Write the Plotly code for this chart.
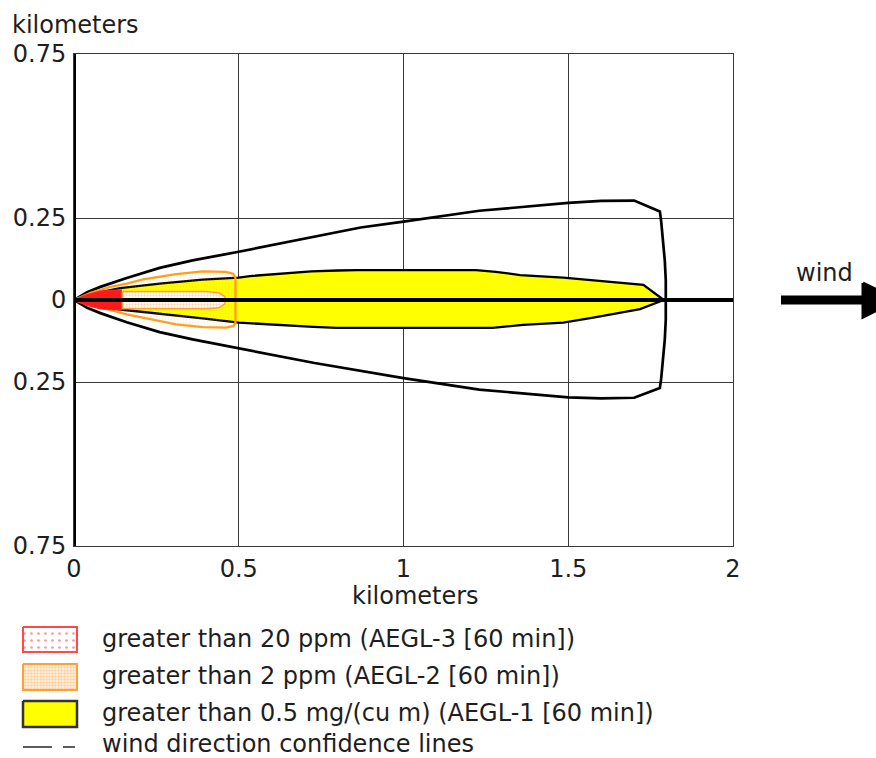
import plotly.graph_objects as go

# ---- axis ticks (km) ----
x_ticks = [0, 0.5, 1, 1.5, 2]
x_tick_labels = ["0", "0.5", "1", "1.5", "2"]
y_ticks = [-0.75, -0.25, 0, 0.25, 0.75]
y_tick_labels = ["0.75", "0.25", "0", "0.25", "0.75"]

# ---- wind direction confidence lines (km downwind, km crosswind) ----
conf_upper_x = [0, 0.04, 0.08, 0.16, 0.26, 0.36, 0.50, 0.67, 0.87, 1.00, 1.23, 1.50, 1.60, 1.70, 1.778]
conf_upper_y = [0, 0.024, 0.040, 0.067, 0.098, 0.121, 0.147, 0.180, 0.221, 0.239, 0.272, 0.296, 0.302, 0.303, 0.270]
conf_arc_x = [1.782, 1.788, 1.793, 1.796, 1.797, 1.796, 1.793, 1.788, 1.782]
conf_arc_y = [0.24, 0.18, 0.12, 0.06, 0.0, -0.06, -0.12, -0.18, -0.24]
conf_lower_x = [1.778, 1.70, 1.60, 1.50, 1.23, 1.00, 0.73, 0.50, 0.47, 0.36, 0.26, 0.16, 0.08, 0.04, 0]
conf_lower_y = [-0.268, -0.298, -0.300, -0.297, -0.273, -0.238, -0.192, -0.147, -0.141, -0.120, -0.098, -0.068, -0.040, -0.024, 0]

# ---- AEGL-1 zone: > 0.5 mg/(cu m) ----
aegl1_x = [0, 0.04, 0.08, 0.14, 0.26, 0.39, 0.50, 0.534, 0.635, 0.72, 0.80, 0.86, 1.00, 1.22, 1.28,
           1.354, 1.485, 1.576, 1.728, 1.79,
           1.718, 1.576, 1.485, 1.363, 1.32, 1.27, 1.00, 0.797, 0.726, 0.574, 0.50, 0.39, 0.26, 0.14, 0.08, 0]
aegl1_y = [0, 0.012, 0.024, 0.036, 0.050, 0.062, 0.068, 0.073, 0.080, 0.087, 0.090, 0.091, 0.091, 0.091, 0.086,
           0.076, 0.068, 0.060, 0.046, 0.0,
           -0.028, -0.054, -0.069, -0.076, -0.081, -0.085, -0.085, -0.085, -0.082, -0.072, -0.069, -0.056, -0.042, -0.029, -0.020, 0]

# ---- AEGL-2 zone: > 2 ppm ----
aegl2_x = [0, 0.05, 0.11, 0.16, 0.21, 0.26, 0.31, 0.39, 0.46, 0.483, 0.49,
           0.49, 0.483, 0.46, 0.39, 0.31, 0.21, 0.16, 0.11, 0.05, 0]
aegl2_y = [0, 0.022, 0.040, 0.050, 0.063, 0.072, 0.079, 0.087, 0.086, 0.080, 0.068,
           -0.072, -0.080, -0.084, -0.083, -0.074, -0.054, -0.044, -0.030, -0.016, 0]

# ---- AEGL-3 zone: > 20 ppm ----
aegl3_x = [0, 0.04, 0.08, 0.14, 0.143, 0.143, 0.14, 0.08, 0.04, 0]
aegl3_y = [0, 0.016, 0.027, 0.030, 0.030, -0.030, -0.030, -0.027, -0.016, 0]
aegl3_tail_x = [0.147, 0.40, 0.44, 0.458, 0.458, 0.44, 0.40, 0.147, 0.147]
aegl3_tail_y = [0.026, 0.026, 0.022, 0.010, -0.012, -0.024, -0.027, -0.027, 0.026]

# ---- downwind centreline ----
center_x = [0, 2]
center_y = [0, 0]

# ---- legend entries ----
legend_labels = [
    "greater than 20 ppm (AEGL-3 [60 min])",
    "greater than 2 ppm (AEGL-2 [60 min])",
    "greater than 0.5 mg/(cu m) (AEGL-1 [60 min])",
    "wind direction confidence lines",
]

W, H = 876, 758
PX_L, PX_R, PX_T, PX_B = 74, 733, 54, 546
FONT = "DejaVu Sans"
TXT = "#1e1e1e"
FS = 24

fig = go.Figure()

# confidence envelope
fig.add_trace(go.Scatter(
    x=conf_upper_x + conf_arc_x + conf_lower_x,
    y=conf_upper_y + conf_arc_y + conf_lower_y,
    mode="lines", line=dict(color="black", width=2.7),
    hoverinfo="skip", showlegend=False))

# AEGL-1 (yellow)
fig.add_trace(go.Scatter(
    x=aegl1_x, y=aegl1_y, mode="lines", fill="toself",
    fillcolor="#ffff00", line=dict(color="black", width=2.3),
    hoverinfo="skip", showlegend=False))

# AEGL-2 (orange, stippled)
fig.add_trace(go.Scatter(
    x=aegl2_x, y=aegl2_y, mode="lines", fill="toself",
    fillcolor="rgba(0,0,0,0)",
    fillpattern=dict(shape=".", fgcolor="rgba(255,170,60,0.35)", bgcolor="rgba(0,0,0,0)",
                     size=3, solidity=0.3),
    line=dict(color="#ff9f1c", width=2.3),
    hoverinfo="skip", showlegend=False))

# AEGL-3 (red)
fig.add_trace(go.Scatter(
    x=aegl3_x, y=aegl3_y, mode="lines", fill="toself",
    fillcolor="#ff1a1a", line=dict(color="#ff2020", width=1.5),
    hoverinfo="skip", showlegend=False))
fig.add_trace(go.Scatter(
    x=aegl3_tail_x, y=aegl3_tail_y, mode="lines", fill="toself",
    fillcolor="#fff6e8",
    fillpattern=dict(shape=".", fgcolor="#ffb060", bgcolor="#fffaf0", size=3, solidity=0.35),
    line=dict(color="#ffa040", width=1.5),
    hoverinfo="skip", showlegend=False))

# centreline
fig.add_trace(go.Scatter(
    x=center_x, y=center_y, mode="lines", line=dict(color="black", width=4),
    hoverinfo="skip", showlegend=False))

# ---- overlay in pixel coordinates for legend and wind arrow ----
def px_rect(x0, y0, x1, y1):
    return [x0, x1, x1, x0, x0], [y0, y0, y1, y1, y0]

bx, by = px_rect(23, 627, 77, 652)
fig.add_trace(go.Scatter(
    x=bx, y=by, xaxis="x2", yaxis="y2", mode="lines", fill="toself", fillcolor="white",
    fillpattern=dict(shape=".", fgcolor="#ff3030", bgcolor="white", size=7, solidity=0.12),
    line=dict(color="#ff4a4a", width=2), hoverinfo="skip", showlegend=False))
bx, by = px_rect(23, 664, 77, 690)
fig.add_trace(go.Scatter(
    x=bx, y=by, xaxis="x2", yaxis="y2", mode="lines", fill="toself", fillcolor="#ffe2bf",
    fillpattern=dict(shape=".", fgcolor="#ffa640", bgcolor="#ffeedd", size=3, solidity=0.4),
    line=dict(color="#ffa030", width=2), hoverinfo="skip", showlegend=False))
bx, by = px_rect(23, 701, 77, 727)
fig.add_trace(go.Scatter(
    x=bx, y=by, xaxis="x2", yaxis="y2", mode="lines", fill="toself", fillcolor="#ffff00",
    line=dict(color="#333333", width=2.5), hoverinfo="skip", showlegend=False))
fig.add_trace(go.Scatter(
    x=[23, 52, None, 63, 75], y=[747, 747, None, 747, 747], xaxis="x2", yaxis="y2",
    mode="lines", line=dict(color="#333333", width=1.6), hoverinfo="skip", showlegend=False))

# wind arrow
fig.add_trace(go.Scatter(
    x=[781, 866], y=[300, 300], xaxis="x2", yaxis="y2", mode="lines",
    line=dict(color="black", width=9), hoverinfo="skip", showlegend=False))
fig.add_trace(go.Scatter(
    x=[863, 863, 897, 863], y=[283, 317, 300, 283], xaxis="x2", yaxis="y2", mode="lines",
    fill="toself", fillcolor="black", line=dict(color="black", width=3),
    hoverinfo="skip", showlegend=False))

annotations = []
for label, ty in zip(legend_labels, [639, 676, 713, 744]):
    annotations.append(dict(x=101, y=ty, xref="x2", yref="y2", text=label, showarrow=False,
                            xanchor="left", yanchor="middle", borderpad=0,
                            font=dict(family=FONT, size=FS, color=TXT)))
annotations.append(dict(x=824, y=273, xref="x2", yref="y2", text="wind", showarrow=False,
                        xanchor="center", yanchor="middle", borderpad=0,
                        font=dict(family=FONT, size=FS, color=TXT)))
annotations.append(dict(x=11, y=25, xref="x2", yref="y2", text="kilometers", showarrow=False,
                        xanchor="left", yanchor="middle", borderpad=0,
                        font=dict(family=FONT, size=FS, color=TXT)))
annotations.append(dict(x=415, y=596, xref="x2", yref="y2", text="kilometers", showarrow=False,
                        xanchor="center", yanchor="middle", borderpad=0,
                        font=dict(family=FONT, size=FS, color=TXT)))

# thick source-side axis line at x = 0
shapes = [dict(type="line", xref="x", yref="y", x0=0, x1=0, y0=-0.75, y1=0.75,
               line=dict(color="black", width=4), layer="above")]

fig.update_layout(
    width=W, height=H,
    margin=dict(l=0, r=0, t=0, b=0, autoexpand=False),
    paper_bgcolor="white", plot_bgcolor="rgba(0,0,0,0)",
    showlegend=False,
    font=dict(family=FONT, size=FS, color=TXT),
    xaxis=dict(domain=[PX_L / W, PX_R / W], range=[0, 2], tickvals=x_ticks, ticktext=x_tick_labels,
               showgrid=True, gridcolor="#3a3a3a", gridwidth=1, zeroline=False,
               showline=True, mirror=True, linecolor="#3a3a3a", linewidth=1,
               ticks="outside", ticklen=1, tickcolor="rgba(0,0,0,0)", automargin=False,
               tickfont=dict(family=FONT, size=FS, color=TXT), fixedrange=True),
    yaxis=dict(domain=[1 - PX_B / H, 1 - PX_T / H], range=[-0.75, 0.75], tickvals=y_ticks,
               ticktext=y_tick_labels, showgrid=True, gridcolor="#3a3a3a", gridwidth=1,
               zeroline=False, showline=True, mirror=True, linecolor="#3a3a3a", linewidth=1,
               ticks="outside", ticklen=2, tickcolor="rgba(0,0,0,0)", automargin=False,
               tickfont=dict(family=FONT, size=FS, color=TXT), fixedrange=True),
    xaxis2=dict(domain=[0, 1], range=[0, W], anchor="y2", visible=False, fixedrange=True,
                automargin=False),
    yaxis2=dict(domain=[0, 1], range=[H, 0], anchor="x2", visible=False, fixedrange=True,
                automargin=False),
    annotations=annotations,
    shapes=shapes,
)

fig.write_html("out.html")
